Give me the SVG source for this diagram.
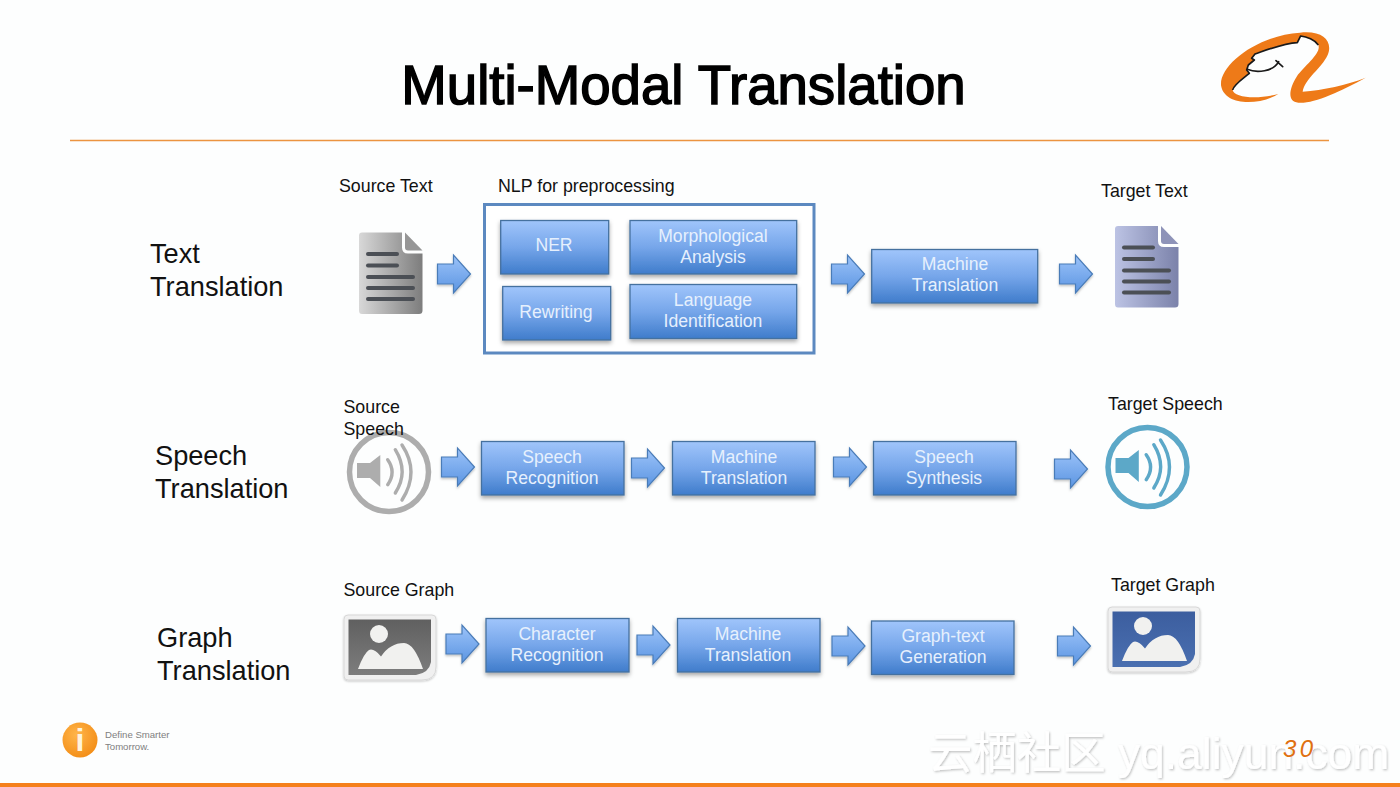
<svg xmlns="http://www.w3.org/2000/svg" xmlns:xlink="http://www.w3.org/1999/xlink" width="1400" height="787" viewBox="0 0 1400 787">
  <style>
    text { font-family: "Liberation Sans", Arial, sans-serif; }
    .title { font-size: 54.6px; fill: #000; stroke: #000; stroke-width: 1.5px; text-anchor: middle; }
    .rowlabel { font-size: 27.2px; fill: #111; }
    .label { font-size: 17.8px; fill: #111; }
    .box { fill: url(#boxFill); stroke: #45719f; stroke-width: 1.3; filter: url(#boxShadow); }
    .boxtext { font-size: 17.6px; fill: #e6f0fd; text-anchor: middle; }
    .arrow { fill: url(#arrowFill); stroke: #4a7cb8; stroke-width: 1.2; stroke-linejoin: miter; filter: url(#arrowShadow); }
    .docline { stroke: #4b4f55; stroke-width: 4; stroke-linecap: round; }
    .speaker-ring { fill: none; stroke: currentColor; stroke-width: 5.5; }
    .speaker-wave { fill: none; stroke: currentColor; stroke-width: 3.4; stroke-linecap: round; }
    .tagline { font-size: 9.6px; fill: #808080; }
    .watermark { font-family: "Liberation Sans", "Noto Sans CJK SC", sans-serif; font-size: 44.400px; fill: #fff; filter: url(#emboss); }
    .pagenum { font-size: 24px; font-style: italic; letter-spacing: 3.5px; fill: #e07010; }
  </style>
  <defs>
    <linearGradient id="boxFill" x1="0" y1="0" x2="0" y2="1">
      <stop offset="0" stop-color="#a0c5fb"/>
      <stop offset=".5" stop-color="#76a6ea"/>
      <stop offset="1" stop-color="#3f7ccb"/>
    </linearGradient>
    <linearGradient id="arrowFill" x1="0" y1="0" x2="0" y2="1">
      <stop offset="0" stop-color="#9cc3f9"/>
      <stop offset="1" stop-color="#5b95e2"/>
    </linearGradient>
    <linearGradient id="docGrey" x1="0" y1="0" x2="1" y2="0">
      <stop offset="0" stop-color="#d8d8d8"/>
      <stop offset="1" stop-color="#7d7d7d"/>
    </linearGradient>
    <linearGradient id="docBlue" x1="0" y1="0" x2="1" y2="0">
      <stop offset="0" stop-color="#bcc3e4"/>
      <stop offset="1" stop-color="#7b82aa"/>
    </linearGradient>
    <linearGradient id="photoGrey" x1="0" y1="0" x2="0" y2="1">
      <stop offset="0" stop-color="#606060"/>
      <stop offset="1" stop-color="#7d7d7d"/>
    </linearGradient>
    <linearGradient id="photoBlue" x1="0" y1="0" x2="0" y2="1">
      <stop offset="0" stop-color="#3c5e9f"/>
      <stop offset="1" stop-color="#4a6fb0"/>
    </linearGradient>
    <radialGradient id="badge" cx=".4" cy=".35" r=".75">
      <stop offset="0" stop-color="#ffb54a"/>
      <stop offset="1" stop-color="#f28a12"/>
    </radialGradient>
    <filter id="boxShadow" x="-10%" y="-15%" width="120%" height="140%">
      <feDropShadow dx="0" dy="2.5" stdDeviation="2" flood-color="#000" flood-opacity=".35"/>
    </filter>
    <filter id="arrowShadow" x="-20%" y="-20%" width="140%" height="140%">
      <feDropShadow dx="0" dy="1.5" stdDeviation="1.2" flood-color="#000" flood-opacity=".25"/>
    </filter>
    <filter id="emboss" x="-5%" y="-20%" width="110%" height="140%">
      <feDropShadow dx="1" dy="1.2" stdDeviation=".8" flood-color="#000" flood-opacity=".25"/>
    </filter>
    <filter id="frameShadow" x="-5%" y="-5%" width="110%" height="115%">
      <feDropShadow dx="0" dy="1" stdDeviation="1" flood-color="#000" flood-opacity=".22"/>
    </filter>
    <polygon id="blockArrow" points="0,-10 16,-10 16,-19 33,0 16,19 16,10 0,10"/>

    <!-- Page icon, origin at the sheet's top-left corner -->
    <path id="sheet" d="M3,0 H43 V15 Q43,21 49,21 H63.5 V78 Q63.5,81.5 60,81.5 H3 Q0,81.5 0,78 V3 Q0,0 3,0 Z"/>
    <path id="fold" d="M46,0 L63.5,18 H49 Q46,18 46,15 Z"/>
    <g id="sheetLines" class="docline">
      <line x1="9" y1="21.5" x2="38" y2="21.5"/>
      <line x1="9" y1="33" x2="38" y2="33"/>
      <line x1="9" y1="44.500" x2="54" y2="44.500"/>
      <line x1="9" y1="55.500" x2="54" y2="55.500"/>
      <line x1="9" y1="66.500" x2="54" y2="66.500"/>
    </g>

    <!-- Speaker icon, origin at the ring's centre -->
    <g id="speaker">
      <circle class="speaker-ring" r="39.500"/>
      <polygon fill="currentColor" points="-32,-9 -19,-9 -8.700,-17 -8.700,15 -19,6 -32,6"/>
      <path class="speaker-wave" d="M-1.300,-12.300 Q7.500,0 -1.300,12.700"/>
      <path class="speaker-wave" d="M6.300,-22.300 Q20,0 6.300,21"/>
      <path class="speaker-wave" d="M13,-27 Q31,0 13,28"/>
    </g>

    <!-- Photo icon frame and its contents, origin at the frame's top-left corner -->
    <path id="photoFrame" d="M4,0 H88 Q92,0 92,4 V52 Q92,65 78,65 H4 Q0,65 0,61 V4 Q0,0 4,0 Z" fill="#f0f0f0" stroke="#d8d8d8" stroke-width="1" filter="url(#frameShadow)"/>
    <path id="photoWindow" d="M4.500,4.500 H87 V47 Q85,58 72,60 H4.500 Z"/>
    <g id="scene" fill="#f1f1ef">
      <circle cx="35" cy="19" r="9"/>
      <path d="M14,54 Q20,38 25,35 Q30,33 37,41.500 Q46,28 60,28 Q70,28 79,54 Z"/>
    </g>
  </defs>

  <rect id="page" width="1400" height="787" fill="#fdfefe"/>

  <g id="header">
    <text class="title" x="683.500" y="104">Multi-Modal Translation</text>
    <line x1="70" y1="140.500" x2="1329" y2="140.500" stroke="#ec9440" stroke-width="1.600"/>
    <g id="logo" transform="translate(1190 10) scale(.3333)">
      <path fill="#ee7a18" d="M265,252 C200,290 100,285 93,225 C90,160 210,75 330,68 C400,60 430,95 413,135 C395,175 345,205 338,245 C400,240 470,225 527,203 C450,245 370,282 325,278 C290,275 298,235 320,200 C345,165 395,130 385,105 C375,90 350,80 332,78 L322,98 C280,100 230,120 195,132 L185,145 L193,150 L175,165 L170,180 L178,190 C160,205 130,225 128,240 C130,262 200,270 265,252 Z"/>
      <path fill="none" stroke="#1a1a1a" stroke-width="5" stroke-linejoin="round" d="M385,105 C375,90 350,80 332,78 L322,98 C280,100 230,120 195,132 L185,145 L193,150 L175,165 L170,180 L178,190 C160,205 130,225 128,240"/>
      <path fill="none" stroke="#1a1a1a" stroke-width="5" stroke-linecap="round" d="M172,178 C200,190 250,185 266,155 M258,152 L278,170"/>
    </g>
  </g>

  <g id="row-labels">
    <text class="rowlabel" x="150" y="263">Text</text>
    <text class="rowlabel" x="150" y="295.500">Translation</text>
    <text class="rowlabel" x="155" y="465">Speech</text>
    <text class="rowlabel" x="155" y="498">Translation</text>
    <text class="rowlabel" x="157" y="647">Graph</text>
    <text class="rowlabel" x="157" y="679.500">Translation</text>
  </g>

  <g id="connectors">
    <use class="arrow" href="#blockArrow" x="437.500" y="274"/>
    <use class="arrow" href="#blockArrow" x="831.500" y="274"/>
    <use class="arrow" href="#blockArrow" x="1059.500" y="274"/>
    <use class="arrow" href="#blockArrow" x="441.500" y="467"/>
    <use class="arrow" href="#blockArrow" x="631.500" y="468"/>
    <use class="arrow" href="#blockArrow" x="833.500" y="467"/>
    <use class="arrow" href="#blockArrow" x="1054.500" y="469"/>
    <use class="arrow" href="#blockArrow" x="446" y="644"/>
    <use class="arrow" href="#blockArrow" x="637" y="645"/>
    <use class="arrow" href="#blockArrow" x="832" y="646"/>
    <use class="arrow" href="#blockArrow" x="1057.500" y="646"/>
  </g>

  <!-- Text translation row -->
  <g id="source-text">
    <text class="label" x="339" y="192">Source Text</text>
    <g transform="translate(359 232.500)">
      <use href="#sheet" fill="url(#docGrey)"/>
      <use href="#fold" fill="#969696"/>
      <use href="#sheetLines"/>
    </g>
  </g>
  <g id="nlp-preprocessing">
    <text class="label" x="498" y="192">NLP for preprocessing</text>
    <rect x="484.500" y="204.500" width="329.500" height="148.500" fill="#fff" stroke="#5c89c0" stroke-width="3"/>
  </g>
  <g id="ner">
    <rect class="box" x="500.700" y="220.500" width="108" height="53.500"/>
    <text class="boxtext" x="554" y="251">NER</text>
  </g>
  <g id="morphological-analysis">
    <rect class="box" x="630" y="220.500" width="166.700" height="53.500"/>
    <text class="boxtext" x="713" y="242">Morphological</text>
    <text class="boxtext" x="713" y="263">Analysis</text>
  </g>
  <g id="rewriting">
    <rect class="box" x="502.700" y="286.500" width="108" height="53.500"/>
    <text class="boxtext" x="556" y="318">Rewriting</text>
  </g>
  <g id="language-identification">
    <rect class="box" x="630" y="284.500" width="166.700" height="54"/>
    <text class="boxtext" x="713" y="306">Language</text>
    <text class="boxtext" x="713" y="327">Identification</text>
  </g>
  <g id="machine-translation-text">
    <rect class="box" x="871.700" y="249.500" width="166" height="53.500"/>
    <text class="boxtext" x="955" y="270">Machine</text>
    <text class="boxtext" x="955" y="291">Translation</text>
  </g>
  <g id="target-text">
    <text class="label" x="1101" y="197">Target Text</text>
    <g transform="translate(1115 226)">
      <use href="#sheet" fill="url(#docBlue)"/>
      <use href="#fold" fill="#8e93b8"/>
      <use href="#sheetLines"/>
    </g>
  </g>

  <!-- Speech translation row -->
  <g id="source-speech">
    <use href="#speaker" x="389" y="472" color="#adadad"/>
    <text class="label" x="343.500" y="413">Source</text>
    <text class="label" x="343.500" y="435">Speech</text>
  </g>
  <g id="speech-recognition">
    <rect class="box" x="481.500" y="441.500" width="142.500" height="53.500"/>
    <text class="boxtext" x="552" y="463">Speech</text>
    <text class="boxtext" x="552" y="484">Recognition</text>
  </g>
  <g id="machine-translation-speech">
    <rect class="box" x="672.500" y="441.500" width="142.500" height="53.500"/>
    <text class="boxtext" x="744" y="463">Machine</text>
    <text class="boxtext" x="744" y="484">Translation</text>
  </g>
  <g id="speech-synthesis">
    <rect class="box" x="873.500" y="441.500" width="142.500" height="53.500"/>
    <text class="boxtext" x="944" y="463">Speech</text>
    <text class="boxtext" x="944" y="484">Synthesis</text>
  </g>
  <g id="target-speech">
    <text class="label" x="1108" y="410">Target Speech</text>
    <use href="#speaker" x="1147.500" y="467" color="#5ca8c8"/>
  </g>

  <!-- Graph translation row -->
  <g id="source-graph">
    <text class="label" x="343.500" y="596">Source Graph</text>
    <g transform="translate(344 615)">
      <use href="#photoFrame"/>
      <use href="#photoWindow" fill="url(#photoGrey)"/>
      <use href="#scene"/>
    </g>
  </g>
  <g id="character-recognition">
    <rect class="box" x="486" y="618.500" width="143" height="53.500"/>
    <text class="boxtext" x="557" y="640">Character</text>
    <text class="boxtext" x="557" y="661">Recognition</text>
  </g>
  <g id="machine-translation-graph">
    <rect class="box" x="677.500" y="618.500" width="142.500" height="53.500"/>
    <text class="boxtext" x="748" y="640">Machine</text>
    <text class="boxtext" x="748" y="661">Translation</text>
  </g>
  <g id="graph-text-generation">
    <rect class="box" x="871.500" y="621" width="142.500" height="53.500"/>
    <text class="boxtext" x="943" y="642">Graph-text</text>
    <text class="boxtext" x="943" y="663">Generation</text>
  </g>
  <g id="target-graph">
    <text class="label" x="1111" y="591">Target Graph</text>
    <g transform="translate(1108 607)">
      <use href="#photoFrame"/>
      <use href="#photoWindow" fill="url(#photoBlue)"/>
      <use href="#scene"/>
    </g>
  </g>

  <g id="footer">
    <rect x="0" y="783" width="1400" height="4" fill="#f5801c"/>
    <g id="badge-mark">
      <circle cx="80" cy="740" r="17.500" fill="url(#badge)"/>
      <text x="80" y="751" font-size="32" font-weight="bold" fill="#fff3dc" text-anchor="middle">i</text>
    </g>
    <text class="tagline" x="105" y="737.500">Define Smarter</text>
    <text class="tagline" x="105" y="750">Tomorrow.</text>
    <text class="watermark" x="928" y="769">云栖社区 yq.aliyun.com</text>
    <text class="pagenum" x="1283" y="757">30</text>
  </g>
</svg>
